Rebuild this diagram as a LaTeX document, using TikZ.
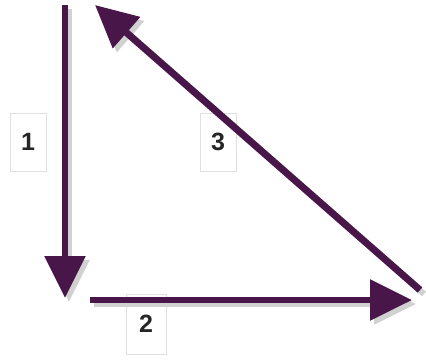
\documentclass[tikz,border=0pt]{standalone}
\usepackage{fontspec}
\setmainfont{Liberation Sans}
\usetikzlibrary{arrows.meta}
\definecolor{arrowpurple}{RGB}{72,22,72}
\tikzset{
  arr/.style={draw=arrowpurple, line width=6pt, -{Triangle[length=42pt,width=40pt]}},
  shad/.style={draw=black!18, line width=6pt, -{Triangle[length=42pt,width=40pt]}},
  lbl/.style={fill=white, draw=black!12, line width=1pt, minimum width=36pt, minimum height=58pt, inner sep=0pt, font=\fontsize{25}{25}\selectfont\bfseries, text=black!85}
}
\begin{document}
\begin{tikzpicture}[x=1pt,y=-1pt]
\useasboundingbox (0,0) rectangle (426,360);
\fill[white] (0,0) rectangle (426,360);
\coordinate (p1) at (65,5);
\coordinate (p2) at (65,298);
\coordinate (q1) at (90,300);
\coordinate (q2) at (412,300);
\coordinate (r1) at (420,290);
\coordinate (r2) at (95,5);
\node[lbl] (l1) at (28,142) {1};
\node[lbl] (l3) at (218,142) {3};
\node[lbl, minimum width=40pt, minimum height=60pt] (l2) at (146,324) {2};
\draw[shad] ([shift={(4,4)}]p1) -- ([shift={(4,4)}]p2);
\draw[shad] ([shift={(4,4)}]q1) -- ([shift={(4,4)}]q2);
\draw[shad] ([shift={(4,4)}]r1) -- ([shift={(4,4)}]r2);
\draw[arr] (p1) -- (p2);
\draw[arr] (q1) -- (q2);
\draw[arr, line width=7pt] (r1) -- (r2);
\end{tikzpicture}
\end{document}
